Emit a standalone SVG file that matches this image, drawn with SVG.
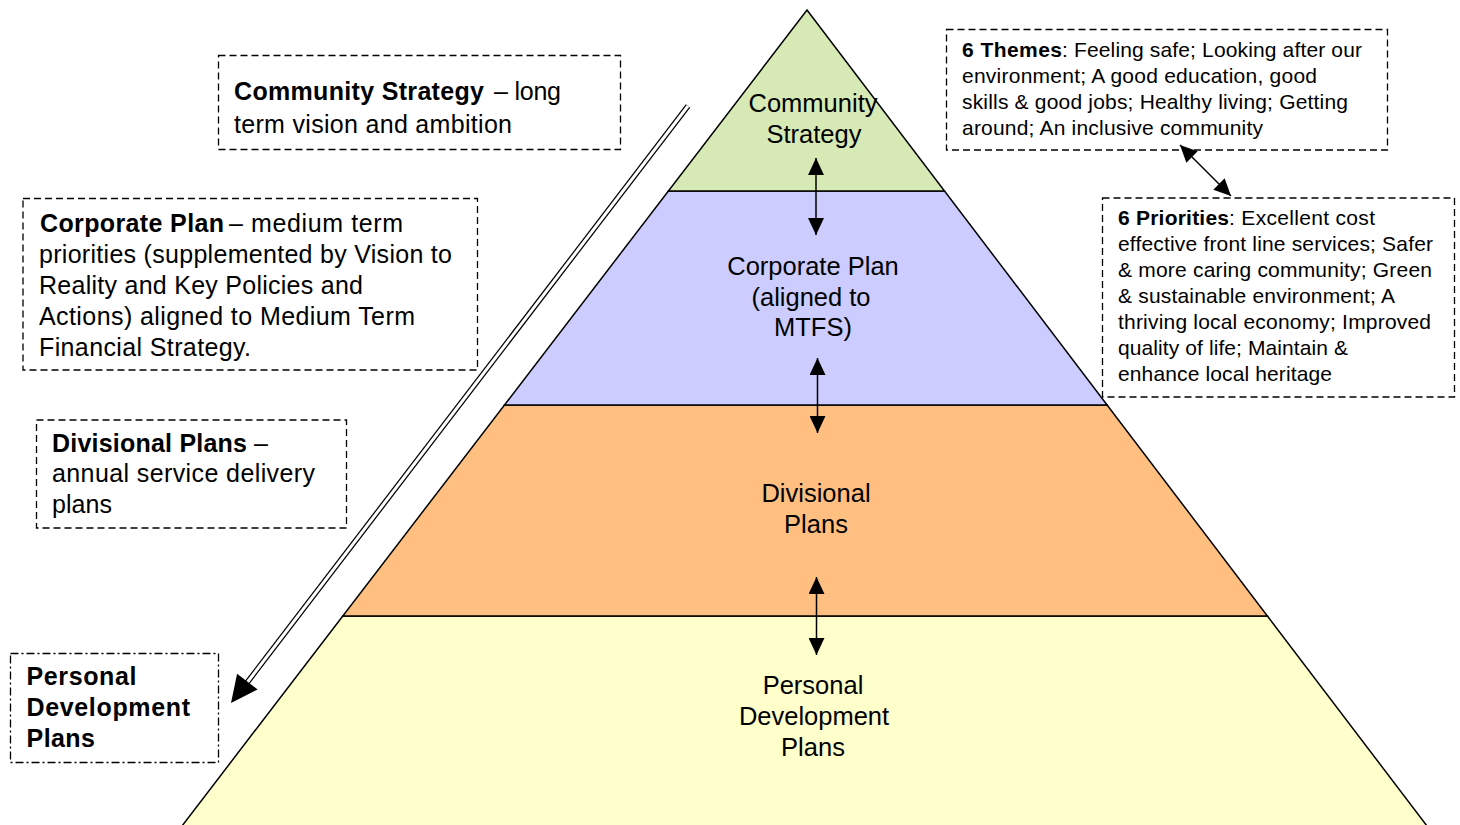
<svg xmlns="http://www.w3.org/2000/svg" width="1460" height="825" viewBox="0 0 1460 825">
<style>
text{font-family:"Liberation Sans",Arial,sans-serif;fill:#000}
.l{font-size:25px}
.s{font-size:21px}
.p{font-size:25.5px;text-anchor:middle}
.b{font-weight:bold}
.tier{stroke:#000;stroke-width:1.5;stroke-linejoin:miter}
.box{fill:none;stroke:#000;stroke-width:1.3;stroke-dasharray:7 4}
.dd{fill:none;stroke:#000;stroke-width:1.3;stroke-dasharray:8 3 2 3}
.arr{stroke:#000;stroke-width:1.5;fill:none;marker-start:url(#ah);marker-end:url(#ah)}
</style>
<defs>
<marker id="ah" markerUnits="userSpaceOnUse" markerWidth="18" markerHeight="16" refX="17" refY="8" orient="auto-start-reverse" viewBox="0 0 17 16"><path d="M0,0 L17,8 L0,16 z" fill="#000"/></marker>
</defs>
<rect width="1460" height="825" fill="#fff"/>

<g id="tier-personal">
<polygon class="tier" fill="#FFFFCC" points="342.8,616 1267.4,616 1427,826 182,826"/>
<text class="p" x="813" y="693.5">Personal</text>
<text class="p" x="814" y="724.5">Development</text>
<text class="p" x="813" y="755.5">Plans</text>
</g>
<g id="tier-divisional">
<polygon class="tier" fill="#FFBF80" points="504.5,405 1107.1,405 1267.4,616 342.8,616"/>
<text class="p" x="816" y="502">Divisional</text>
<text class="p" x="816" y="533">Plans</text>
</g>
<g id="tier-corporate">
<polygon class="tier" fill="#CCCCFF" points="668.4,191 944.5,191 1107.1,405 504.5,405"/>
<text class="p" x="813" y="275">Corporate Plan</text>
<text class="p" x="811" y="305.5">(aligned to</text>
<text class="p" x="813" y="336">MTFS)</text>
</g>
<g id="tier-community">
<polygon class="tier" fill="#D7E9B4" points="807,10 944.5,191 668.4,191"/>
<text class="p" x="813" y="112">Community</text>
<text class="p" x="814" y="143">Strategy</text>
</g>

<g id="box-community">
<rect class="box" x="218.5" y="55.5" width="402" height="94"/>
<text class="l b" x="234" y="100" textLength="250" lengthAdjust="spacing">Community Strategy</text>
<text class="l" x="494" y="100" textLength="67" lengthAdjust="spacing">– long</text>
<text class="l" x="234" y="133" textLength="278" lengthAdjust="spacing">term vision and ambition</text>
</g>

<g id="box-corporate">
<rect class="box" x="23" y="198.5" width="454.5" height="171.5"/>
<text class="l b" x="40" y="231.5" textLength="184" lengthAdjust="spacing">Corporate Plan</text>
<text class="l" x="229" y="231.5" textLength="174" lengthAdjust="spacing">– medium term</text>
<text class="l" x="39" y="262.5" textLength="413" lengthAdjust="spacing">priorities (supplemented by Vision to</text>
<text class="l" x="39" y="293.5" textLength="324" lengthAdjust="spacing">Reality and Key Policies and</text>
<text class="l" x="39" y="324.5" textLength="376" lengthAdjust="spacing">Actions) aligned to Medium Term</text>
<text class="l" x="39" y="355.5" textLength="212" lengthAdjust="spacing">Financial Strategy.</text>
</g>

<g id="box-divisional">
<rect class="box" x="36.5" y="420" width="310" height="108"/>
<text class="l b" x="52" y="451.5" textLength="195" lengthAdjust="spacing">Divisional Plans</text>
<text class="l" x="254" y="451.5">–</text>
<text class="l" x="52" y="482" textLength="263" lengthAdjust="spacing">annual service delivery</text>
<text class="l" x="52" y="513" textLength="60" lengthAdjust="spacing">plans</text>
</g>

<g id="box-personal">
<rect class="dd" x="10.5" y="653.5" width="208" height="109"/>
<text class="l b" x="26.5" y="685" textLength="110" lengthAdjust="spacing">Personal</text>
<text class="l b" x="26.5" y="716" textLength="163.5" lengthAdjust="spacing">Development</text>
<text class="l b" x="26.5" y="747" textLength="68.5" lengthAdjust="spacing">Plans</text>
</g>

<g id="box-themes">
<rect class="box" x="946.5" y="29.5" width="441" height="120.5"/>
<text class="s b" x="962" y="57" textLength="100" lengthAdjust="spacing">6 Themes</text>
<text class="s" x="1062" y="57" textLength="300" lengthAdjust="spacing">: Feeling safe; Looking after our</text>
<text class="s" x="962" y="83" textLength="355" lengthAdjust="spacing">environment; A good education, good</text>
<text class="s" x="962" y="109" textLength="386" lengthAdjust="spacing">skills &amp; good jobs; Healthy living; Getting</text>
<text class="s" x="962" y="135" textLength="301" lengthAdjust="spacing">around; An inclusive community</text>
</g>

<g id="box-priorities">
<rect class="box" x="1102.5" y="198" width="352" height="199"/>
<text class="s b" x="1118" y="225" textLength="111" lengthAdjust="spacing">6 Priorities</text>
<text class="s" x="1229" y="225" textLength="146" lengthAdjust="spacing">: Excellent cost</text>
<text class="s" x="1118" y="251" textLength="315" lengthAdjust="spacing">effective front line services; Safer</text>
<text class="s" x="1118" y="277" textLength="314" lengthAdjust="spacing">&amp; more caring community; Green</text>
<text class="s" x="1118" y="303" textLength="277" lengthAdjust="spacing">&amp; sustainable environment; A</text>
<text class="s" x="1118" y="329" textLength="313" lengthAdjust="spacing">thriving local economy; Improved</text>
<text class="s" x="1118" y="355" textLength="230" lengthAdjust="spacing">quality of life; Maintain &amp;</text>
<text class="s" x="1118" y="381" textLength="214" lengthAdjust="spacing">enhance local heritage</text>
</g>

<g id="connectors">
<line class="arr" x1="816" y1="158" x2="816" y2="235"/>
<line class="arr" x1="817.5" y1="358" x2="817.5" y2="433"/>
<line class="arr" x1="816.5" y1="577" x2="816.5" y2="655"/>
<line class="arr" x1="1180" y1="145" x2="1231" y2="196"/>
<line x1="688" y1="106" x2="246" y2="684" stroke="#000" stroke-width="5.5"/>
<line x1="688" y1="106" x2="246" y2="684" stroke="#fff" stroke-width="3"/>
<polygon points="231,703 237.1,673.7 257.7,689.5" fill="#000"/>
</g>
</svg>
